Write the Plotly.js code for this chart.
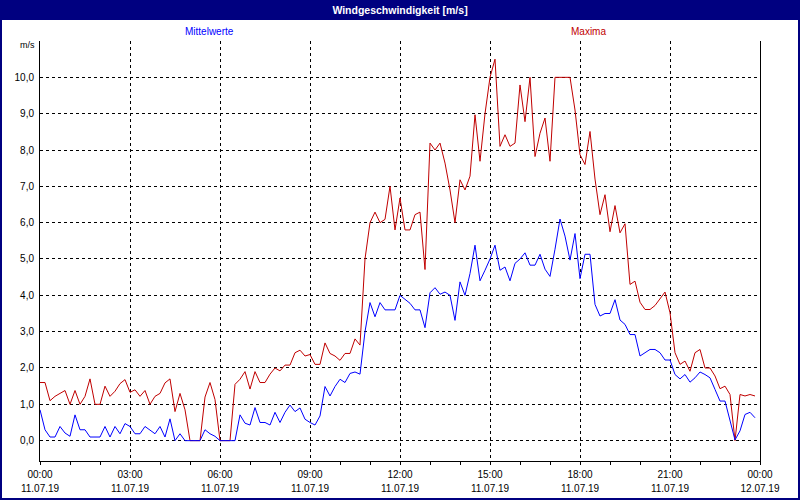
<!DOCTYPE html>
<html>
<head>
<meta charset="utf-8">
<script src="https://cdn.plot.ly/plotly-3.0.1.min.js"></script>
<style>
html,body{margin:0;padding:0;background:#fff;}
#chart{width:800px;height:500px;}
</style>
</head>
<body>
<div id="chart"></div>
<script>
// 10-minute values, 11.07.19 00:00 .. 23:50
const intervalMinutes = 10;
const mittelwerte = [
0.85,0.3,0.1,0.1,0.39,0.21,0.12,0.71,0.3,0.3,0.1,0.1,0.1,0.39,0.1,0.39,0.19,0.47,
0.39,0.19,0.19,0.39,0.3,0.19,0.39,0.1,0.6,0.0,0.19,0.0,0.0,0.0,0.0,0.3,0.19,0.12,
0.0,0.0,0.0,0.0,0.71,0.48,0.43,0.91,0.5,0.5,0.43,0.78,0.5,0.78,0.98,0.8,0.9,0.59,
0.5,0.43,0.68,1.49,1.23,1.49,1.69,1.6,1.85,1.89,1.83,3.0,3.8,3.41,3.8,3.6,3.6,3.6,
4.0,3.89,3.78,3.6,3.6,3.11,4.07,4.21,4.03,4.09,4.0,3.31,4.37,4.0,4.6,5.38,4.4,4.69,
5.0,5.38,4.69,4.78,4.4,4.88,5.0,5.17,4.83,4.83,5.13,4.72,4.52,5.27,6.1,5.63,4.97,5.7,
4.46,5.13,5.13,3.75,3.43,3.5,3.5,3.88,3.32,3.2,2.92,2.92,2.33,2.42,2.51,2.51,2.42,2.22,
2.22,1.82,1.7,1.82,1.61,1.73,1.89,1.82,1.73,1.41,1.09,1.09,0.54,0.02,0.27,0.72,0.78,0.63
];
const maxima = [
1.6,1.6,1.1,1.22,1.3,1.38,1.0,1.38,1.0,1.22,1.7,1.0,1.0,1.5,1.22,1.36,1.57,1.68,
1.33,1.4,1.22,1.38,1.0,1.22,1.3,1.59,1.7,0.8,1.3,0.85,0.0,0.0,0.0,1.2,1.6,1.13,
0.0,0.0,0.0,1.55,1.69,1.9,1.42,1.9,1.6,1.6,1.83,2.0,1.92,2.08,2.08,2.42,2.49,2.33,
2.37,2.1,2.1,2.69,2.4,2.33,2.21,2.4,2.4,2.8,2.63,5.0,6.0,6.29,6.0,6.09,7.0,5.8,
6.68,5.8,5.8,6.22,6.29,4.71,8.19,8.0,8.19,7.64,6.9,6.0,7.18,6.9,7.28,8.97,7.69,9.0,
10.0,10.5,8.1,8.42,8.1,8.19,9.79,8.78,10.0,7.82,8.46,8.88,7.69,10.0,10.0,10.0,10.0,9.1,
7.87,7.6,8.51,7.2,6.22,6.77,5.75,6.47,5.72,5.97,4.3,4.39,3.81,3.61,3.61,3.72,3.9,4.09,
3.52,2.42,2.1,2.19,1.91,2.42,2.51,2.0,2.0,1.78,1.43,1.5,1.27,0.0,1.27,1.23,1.27,1.23
];
const tickHours = [0,3,6,9,12,15,18,21,24];
const timeLabels = ['00:00','03:00','06:00','09:00','12:00','15:00','18:00','21:00','00:00'];
const dateLabels = ['11.07.19','11.07.19','11.07.19','11.07.19','11.07.19','11.07.19','11.07.19','11.07.19','12.07.19'];
const yTicks = [0,1,2,3,4,5,6,7,8,9,10];

const hours = mittelwerte.map((_, i) => i * intervalMinutes / 60);
const navy = '#000080';
const font = 'Liberation Sans, Arial, sans-serif';

const traces = [
  {x: hours, y: maxima, type: 'scatter', mode: 'lines', name: 'Maxima',
   line: {color: '#c00000', width: 1}, hoverinfo: 'skip'},
  {x: hours, y: mittelwerte, type: 'scatter', mode: 'lines', name: 'Mittelwerte',
   line: {color: '#0000ff', width: 1}, hoverinfo: 'skip'},
  {x: [], y: [], xaxis: 'x2', type: 'scatter', showlegend: false, hoverinfo: 'skip'}
];

const W = 720, H = 420, L = 40, T = 41;
const px = q => (q - L) / W;
const py = p => (T + H - p) / H;

const layout = {
  width: 800, height: 500,
  margin: {l: 40, r: 40, t: 41, b: 39, pad: 0},
  paper_bgcolor: '#ffffff', plot_bgcolor: '#ffffff',
  showlegend: false,
  separators: ',.',
  font: {family: font, size: 10, color: '#000'},
  title: {text: 'Windgeschwindigkeit [m/s]', x: 0.5, xref: 'container', xanchor: 'center',
          y: 1 - 10/500, yref: 'container', yanchor: 'middle',
          font: {family: font, size: 10.5, color: '#ffffff', weight: 'bold'}},
  xaxis: {
    range: [0, 24], tickmode: 'array', tickvals: tickHours, ticktext: timeLabels,
    ticks: 'outside', ticklen: 3, tickcolor: '#000', tickwidth: 1,
    showline: true, linecolor: '#000', linewidth: 1,
    showgrid: true, gridcolor: '#000', gridwidth: 1, griddash: '3px,3px',
    zeroline: false, fixedrange: true, ticklabelstandoff: 1,
    tickfont: {family: font, size: 10, color: '#000'},
    minor: {ticks: 'outside', ticklen: 3, tickcolor: '#000', dtick: 1, tick0: 0, showgrid: false}
  },
  xaxis2: {
    overlaying: 'x', anchor: 'y', side: 'bottom', range: [0, 24],
    tickmode: 'array', tickvals: tickHours, ticktext: dateLabels,
    ticks: '', showline: false, showgrid: false, zeroline: false, fixedrange: true,
    ticklabelstandoff: 20, tickfont: {family: font, size: 10, color: '#000'}
  },
  yaxis: {
    range: [-0.56, 11.0], tickmode: 'array', tickvals: yTicks, tickformat: '.1f',
    ticks: '', showline: true, mirror: true, linecolor: '#000', linewidth: 1,
    showgrid: true, gridcolor: '#000', gridwidth: 1, griddash: '3px,3px',
    zeroline: false, fixedrange: true, ticklabelstandoff: 3,
    tickfont: {family: font, size: 10, color: '#000'}
  },
  shapes: [
    {type: 'rect', xref: 'paper', yref: 'paper', x0: px(0), x1: px(800), y0: py(20), y1: py(0),
     fillcolor: navy, line: {width: 0}, layer: 'below'},
    {type: 'rect', xref: 'paper', yref: 'paper', x0: px(1), x1: px(799), y0: py(499), y1: py(1),
     fillcolor: 'rgba(0,0,0,0)', line: {color: navy, width: 2}, layer: 'above'}
  ],
  annotations: [
    {text: 'Mittelwerte', xref: 'paper', yref: 'paper', x: px(209), y: py(31),
     xanchor: 'center', yanchor: 'middle', showarrow: false,
     font: {family: font, size: 10, color: '#0000ff'}},
    {text: 'Maxima', xref: 'paper', yref: 'paper', x: px(588), y: py(31),
     xanchor: 'center', yanchor: 'middle', showarrow: false,
     font: {family: font, size: 10, color: '#c00000'}},
    {text: 'm/s', xref: 'paper', yref: 'paper', x: px(37), y: py(45),
     xanchor: 'right', yanchor: 'middle', showarrow: false,
     font: {family: font, size: 9, color: '#000'}}
  ]
};

Plotly.newPlot('chart', traces, layout, {displayModeBar: false, staticPlot: true});
</script>
</body>
</html>
